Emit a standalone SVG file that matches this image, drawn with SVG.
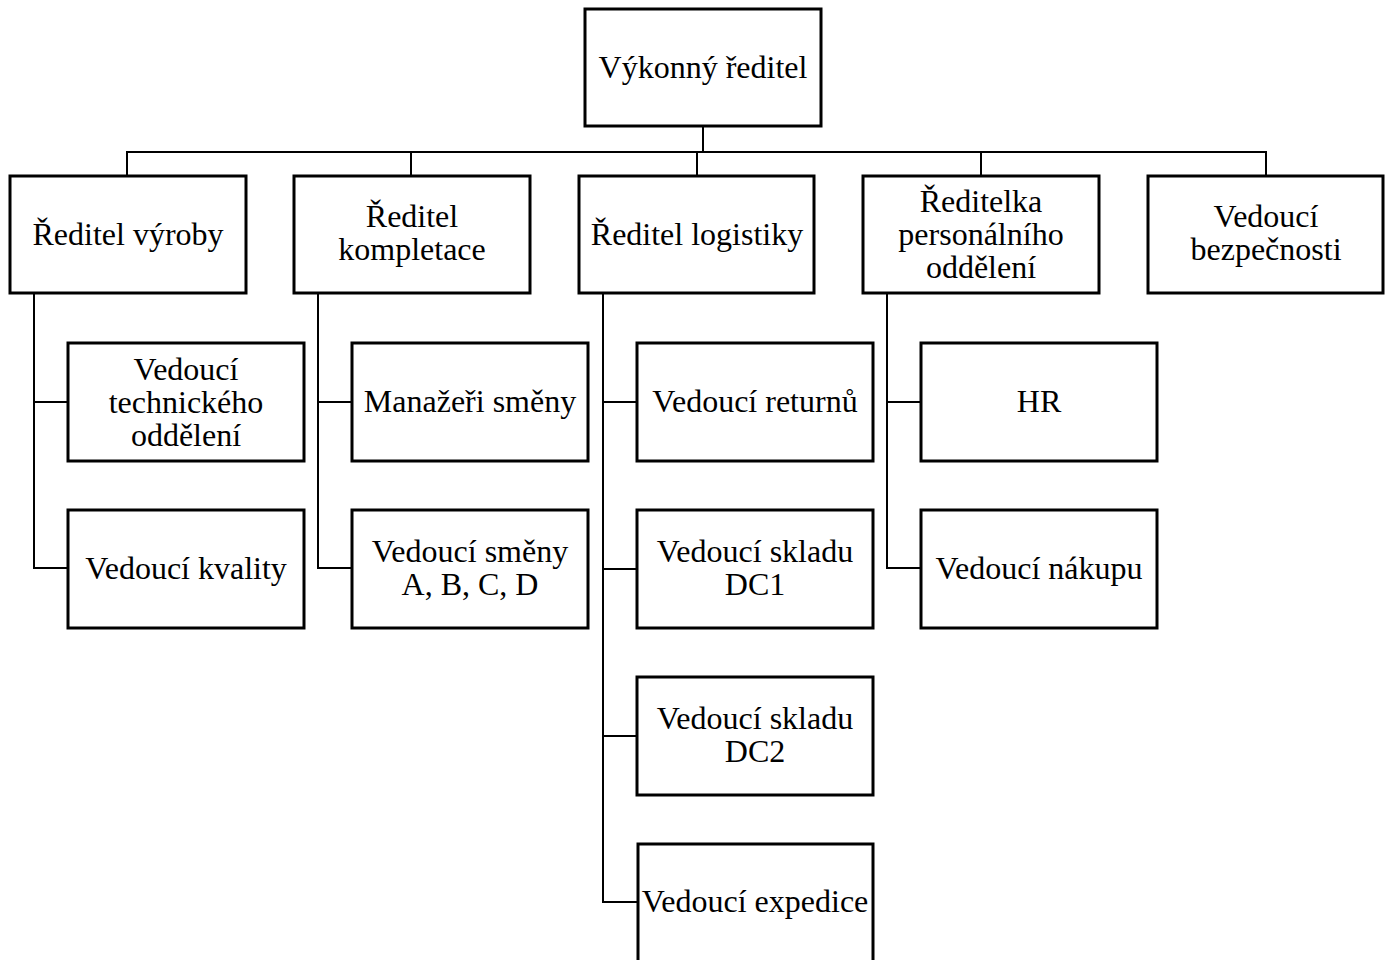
<svg xmlns="http://www.w3.org/2000/svg" width="1390" height="960" viewBox="0 0 1390 960">
<style>
.box{fill:#fff;stroke:#000;stroke-width:3}
.conn{fill:none;stroke:#000;stroke-width:2}
text{font-family:"Liberation Serif","Times New Roman",serif;font-size:32px;fill:#000;text-anchor:middle}
</style>
<rect width="1390" height="960" fill="#fff"/>
<g id="connectors" class="conn">
<path d="M703,126V152M127,176V152H1266V176M411,152V176M697,152V176M981,152V176"/>
<path d="M34,293V568H68M34,402H68"/>
<path d="M318,293V568H352M318,402H352"/>
<path d="M603,293V902H637M603,402H637M603,569H637M603,736H637"/>
<path d="M887,293V568H921M887,402H921"/>
</g>
<g id="n0"><rect class="box" x="585" y="9" width="236" height="117"/><text x="703" y="78">Výkonný ředitel</text></g>
<g id="n1"><rect class="box" x="10" y="176" width="236" height="117"/><text x="128" y="245">Ředitel výroby</text></g>
<g id="n2"><rect class="box" x="294" y="176" width="236" height="117"/><text x="412" y="227">Ředitel</text><text x="412" y="260">kompletace</text></g>
<g id="n3"><rect class="box" x="579" y="176" width="235" height="117"/><text x="697" y="245">Ředitel logistiky</text></g>
<g id="n4"><rect class="box" x="863" y="176" width="236" height="117"/><text x="981" y="212">Ředitelka</text><text x="981" y="245">personálního</text><text x="981" y="278">oddělení</text></g>
<g id="n5"><rect class="box" x="1148" y="176" width="235" height="117"/><text x="1266" y="227">Vedoucí</text><text x="1266" y="260">bezpečnosti</text></g>
<g id="n6"><rect class="box" x="68" y="343" width="236" height="118"/><text x="186" y="380">Vedoucí</text><text x="186" y="413">technického</text><text x="186" y="446">oddělení</text></g>
<g id="n7"><rect class="box" x="68" y="510" width="236" height="118"/><text x="186" y="579">Vedoucí kvality</text></g>
<g id="n8"><rect class="box" x="352" y="343" width="236" height="118"/><text x="470" y="412">Manažeři směny</text></g>
<g id="n9"><rect class="box" x="352" y="510" width="236" height="118"/><text x="470" y="562">Vedoucí směny</text><text x="470" y="595">A, B, C, D</text></g>
<g id="n10"><rect class="box" x="637" y="343" width="236" height="118"/><text x="755" y="412">Vedoucí returnů</text></g>
<g id="n11"><rect class="box" x="637" y="510" width="236" height="118"/><text x="755" y="562">Vedoucí skladu</text><text x="755" y="595">DC1</text></g>
<g id="n12"><rect class="box" x="637" y="677" width="236" height="118"/><text x="755" y="729">Vedoucí skladu</text><text x="755" y="762">DC2</text></g>
<g id="n13"><rect class="box" x="638" y="844" width="235" height="118"/><text x="755" y="912">Vedoucí expedice</text></g>
<g id="n14"><rect class="box" x="921" y="343" width="236" height="118"/><text x="1039" y="412">HR</text></g>
<g id="n15"><rect class="box" x="921" y="510" width="236" height="118"/><text x="1039" y="579">Vedoucí nákupu</text></g>
</svg>
